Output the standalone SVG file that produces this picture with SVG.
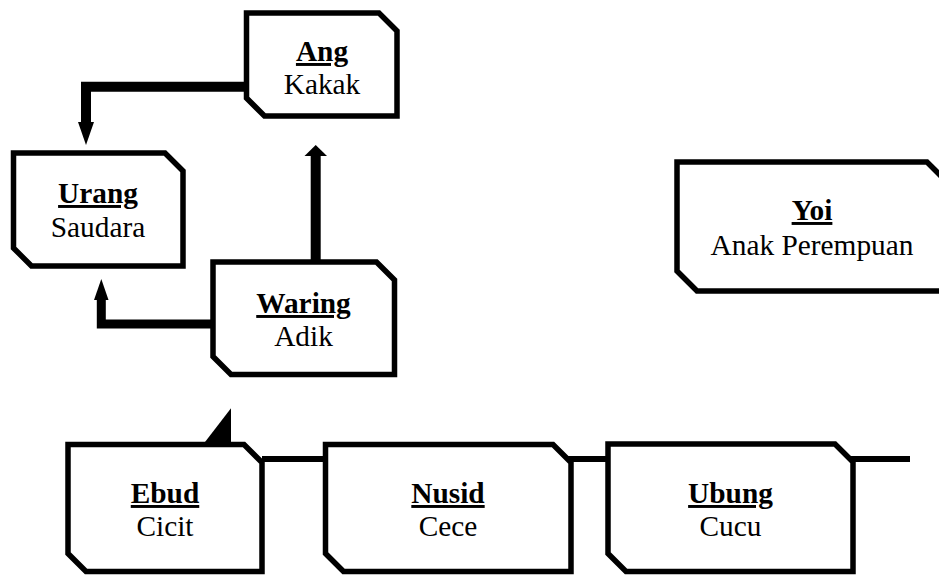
<svg xmlns="http://www.w3.org/2000/svg" width="939" height="576" viewBox="0 0 939 576">
<style>
.box{fill:#fff;stroke:#000;stroke-width:5.5;stroke-linejoin:miter}
.ln{fill:none;stroke:#000;stroke-linejoin:miter;stroke-linecap:butt}
.hd{fill:#000;stroke:none}
.lbl{font-family:'Liberation Serif',Tinos,'Times New Roman',Times,'Nimbus Roman','Nimbus Roman No9 L','FreeSerif','Noto Serif','DejaVu Serif',serif;font-size:29.33px;fill:#000;text-anchor:middle}
.t{font-weight:bold;text-decoration:underline}
</style>
<rect width="939" height="576" fill="#fff"/>
<g id="connectors">
<polyline class="ln" style="stroke-width:10" points="246.5,86.7 86,86.7 86,122"/>
<polygon class="hd" points="78,122 94,122 86,145"/>
<polyline class="ln" style="stroke-width:9" points="213,324 101.3,324 101.3,300"/>
<polygon class="hd" points="94,300 108.5,300 101.3,279"/>
<line class="ln" style="stroke-width:10" x1="315.7" y1="262" x2="315.7" y2="155.5"/>
<polygon class="hd" points="304.5,156 327,156 315.7,145"/>
<line class="ln" style="stroke-width:6" x1="262" y1="459" x2="910" y2="459"/>
<polygon class="hd" points="205,442 231,408.3 231,442"/>
</g>
<g id="node-ang">
<polygon class="box" points="246.5,13 379,13 397,31 397,116 264.5,116 246.5,98"/>
<text x="322" y="61" class="lbl t">Ang</text>
<text x="322" y="94" class="lbl">Kakak</text>
</g>
<g id="node-urang">
<polygon class="box" points="13.5,153 165,153 183,171 183,266 31.5,266 13.5,248"/>
<text x="98" y="203" class="lbl t">Urang</text>
<text x="98" y="237" class="lbl">Saudara</text>
</g>
<g id="node-waring">
<polygon class="box" points="213,262 376.5,262 394.5,280 394.5,374.5 231,374.5 213,356.5"/>
<text x="303.5" y="313" class="lbl t">Waring</text>
<text x="303.5" y="346" class="lbl">Adik</text>
</g>
<g id="node-yoi">
<polygon class="box" points="677,162 927,162 947,182 947,291 697,291 677,271"/>
<text x="812" y="220" class="lbl t">Yoi</text>
<text x="812" y="255" class="lbl">Anak Perempuan</text>
</g>
<g id="node-ebud">
<polygon class="box" points="68,444.5 244,444.5 262,462.5 262,571.5 86,571.5 68,553.5"/>
<text x="165" y="503" class="lbl t">Ebud</text>
<text x="165" y="536" class="lbl">Cicit</text>
</g>
<g id="node-nusid">
<polygon class="box" points="325.5,444.5 553,444.5 571,462.5 571,571.5 343.5,571.5 325.5,553.5"/>
<text x="448" y="503" class="lbl t">Nusid</text>
<text x="448" y="536" class="lbl">Cece</text>
</g>
<g id="node-ubung">
<polygon class="box" points="608,444 835,444 853,462 853,571.5 626,571.5 608,553.5"/>
<text x="730.5" y="503" class="lbl t">Ubung</text>
<text x="730.5" y="536" class="lbl">Cucu</text>
</g>
</svg>
